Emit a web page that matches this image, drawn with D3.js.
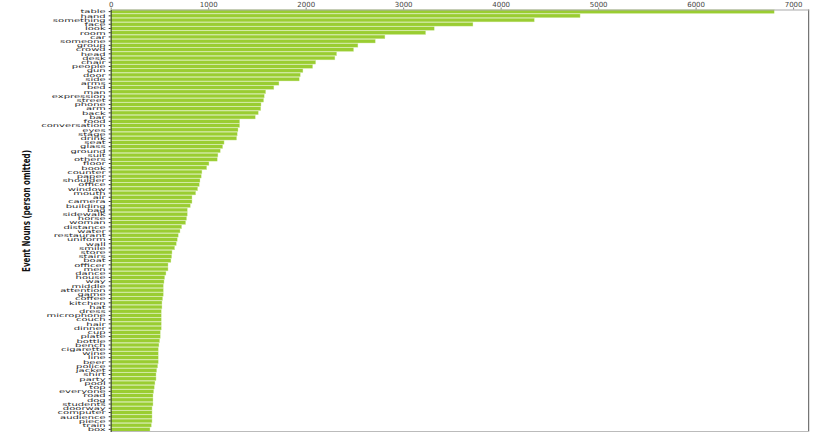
<!DOCTYPE html>
<html>
<head>
  <meta charset="utf-8">
  <title>Event nouns</title>
  <script src="https://cdn.jsdelivr.net/npm/d3@7/dist/d3.min.js"></script>
  <style>
    body { margin:0; background:white; }
    svg { display:block; }
  </style>
</head>
<body>
  <div id="chart"></div>
  <script>
  // nouns, most frequent first
  var nouns = ["table","hand","something","face","look","room","car","someone","group","crowd",
    "head","desk","chair","people","gun","door","side","arms","bed","man",
    "expression","street","phone","arm","back","bar","food","conversation","eyes","stage",
    "drink","seat","glass","ground","suit","others","floor","book","counter","paper",
    "shoulder","office","window","mouth","air","camera","building","bag","sidewalk","horse",
    "woman","distance","water","restaurant","uniform","wall","smile","store","stairs","boat",
    "officer","men","dance","house","way","middle","attention","game","coffee","kitchen",
    "hat","dress","microphone","couch","hair","dinner","cup","plate","bottle","bench",
    "cigarette","wine","line","beer","police","jacket","shirt","party","pool","top",
    "everyone","road","dog","students","doorway","computer","audience","piece","train","box"];

  var counts = [6806,4815,4345,3716,3319,3231,2813,2714,2536,2492,
    2318,2300,2103,2072,1972,1945,1934,1726,1674,1590,
    1575,1569,1542,1540,1514,1483,1323,1323,1306,1298,
    1292,1163,1149,1124,1100,1093,1008,985,936,929,
    916,909,892,872,834,834,817,786,786,779,
    769,728,711,693,683,673,656,629,626,618,
    588,588,567,554,547,540,540,540,533,526,
    526,519,519,519,519,519,509,509,502,495,
    488,488,488,488,482,472,465,465,454,447,
    441,434,434,434,424,424,424,424,417,403];

  var xTicks = [0,1000,2000,3000,4000,5000,6000,7000];

  var W = 830, H = 436;
  var mLeft = 110.7, mRight = 808.7, mTop = 9.5, mBottom = 431.5;

  var svg = d3.select('#chart').append('svg')
    .attr('width', W).attr('height', H);

  var x = d3.scaleLinear().domain([0, 7160]).range([mLeft, mRight]);
  var y = d3.scaleBand().domain(nouns).range([mTop, mBottom]).paddingInner(0.12).paddingOuter(0.06);

  // bars
  svg.append('g').selectAll('rect')
      .data(nouns)
    .enter().append('rect')
      .attr('x', x(0))
      .attr('y', function(d) { return y(d); })
      .attr('width', function(d, i) { return x(counts[i]) - x(0); })
      .attr('height', y.bandwidth())
      .attr('fill', '#9acd32')
      .attr('stroke', '#d8eeb0')
      .attr('stroke-width', 0.4);

  // frame
  svg.append('line').attr('x1', mRight).attr('x2', mRight).attr('y1', mTop).attr('y2', mBottom)
    .attr('stroke', '#555').attr('stroke-width', 1);
  svg.append('line').attr('x1', mLeft).attr('x2', mRight).attr('y1', mBottom).attr('y2', mBottom)
    .attr('stroke', '#bbb').attr('stroke-width', 1);

  // top axis
  var xAxis = d3.axisTop(x).tickValues(xTicks).tickFormat(d3.format('d'))
    .tickSize(2).tickSizeOuter(0).tickPadding(1);
  var gx = svg.append('g').attr('transform', 'translate(0,' + mTop + ')').call(xAxis);
  gx.select('.domain').attr('stroke', '#aaa').attr('stroke-width', 1.2);
  gx.selectAll('.tick line').attr('stroke', '#888');
  gx.selectAll('.tick text')
    .attr('font-family', 'DejaVu Sans').attr('font-size', 7).attr('fill', '#444');

  // left axis, labels drawn separately so they can be squashed
  var yAxis = d3.axisLeft(y).tickSize(2).tickSizeOuter(0).tickPadding(2);
  var gy = svg.append('g').attr('transform', 'translate(' + mLeft + ',0)').call(yAxis);
  gy.select('.domain').attr('stroke', '#333').attr('stroke-width', 1);
  gy.selectAll('.tick line').attr('stroke', '#333');
  gy.selectAll('.tick text').remove();

  svg.append('g').selectAll('text')
      .data(nouns)
    .enter().append('text')
      .attr('transform', function(d) {
        return 'translate(' + (mLeft - 5) + ',' + (y(d) + y.bandwidth() / 2) + ') scale(1,0.5)';
      })
      .attr('text-anchor', 'end')
      .attr('dy', '0.36em')
      .attr('font-family', 'DejaVu Sans')
      .attr('font-size', 10)
      .attr('fill', '#222')
      .text(function(d) { return d; });

  // axis title
  svg.append('text')
    .attr('transform', 'translate(30,211) rotate(-90)')
    .attr('text-anchor', 'middle')
    .attr('font-family', 'Liberation Sans Narrow, DejaVu Sans Condensed, sans-serif')
    .attr('font-size', 11)
    .attr('font-weight', 'bold')
    .attr('textLength', 122)
    .attr('lengthAdjust', 'spacingAndGlyphs')
    .attr('fill', '#111')
    .text('Event Nouns (person omitted)');
  </script>
</body>
</html>
